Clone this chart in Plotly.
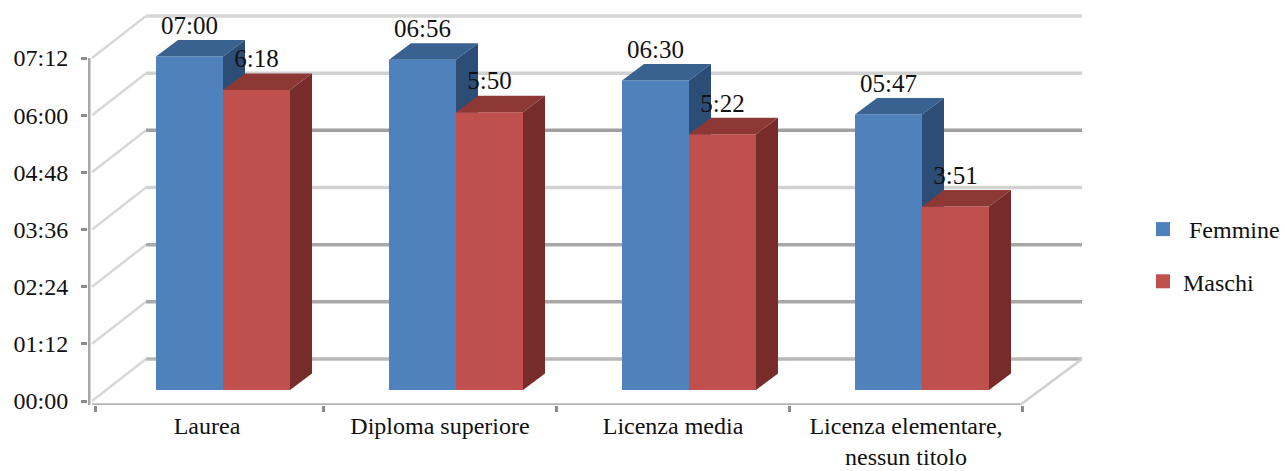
import plotly.graph_objects as go

categories = ["Laurea", "Diploma superiore", "Licenza media", "Licenza elementare,<br>nessun titolo"]
femmine_labels = ["07:00", "06:56", "06:30", "05:47"]
maschi_labels = ["6:18", "5:50", "5:22", "3:51"]
femmine_minutes = [420, 416, 390, 347]
maschi_minutes = [378, 350, 322, 231]
y_tick_minutes = [0, 72, 144, 216, 288, 360, 432]
y_tick_labels = ["00:00", "01:12", "02:24", "03:36", "04:48", "06:00", "07:12"]

W, H = 1284, 471
L, R, T, B = 88, 184, 5, 66          # plot-area margins
UX = 233.0                           # px per category
UY = 343 / 432                       # px per minute
X_MIN = -(207 - L) / UX
X_MAX = X_MIN + (W - L - R) / UX
Y_MIN = -5.0
Y_MAX = Y_MIN + (H - T - B) / UY

BASE = 11 / UY                       # bars stand a little behind the front edge
BAR_SHIFT = 16 / UX
BAR_W = 67 / UX
DEPTH_X, DEPTH_Y = 22 / UX, 16.5 / UY
FLOOR_X, FLOOR_Y = 54 / UX, 42 / UY
LEFT_X = (92 - 207) / UX
RIGHT_X = (1020 - 207) / UX
BACK_RIGHT_X = (1082 - 207) / UX
AXIS_X = (89 - 207) / UX
LABEL_LIFT = 29 / UY
FONT = "Liberation Serif"
FS = 24

GRID_COLORS = ["#b8b8b8", "#a8a8a8", "#a8a8a8", "#d2d2d2", "#a0a0a0", "#d2d2d2", "#d6d6d6"]
BLUE, BLUE_SIDE, BLUE_TOP = "#4F81BD", "#2C4D75", "#3A6291"
RED, RED_SIDE, RED_TOP = "#C0504D", "#772C2A", "#8E3836"

fig = go.Figure()


def line(xs, ys, color, width):
    fig.add_trace(go.Scatter(x=xs, y=ys, mode="lines", line=dict(color=color, width=width),
                             hoverinfo="skip", showlegend=False, xaxis="x", yaxis="y"))


# walls and floor
for v, c in zip(y_tick_minutes, GRID_COLORS):
    line([LEFT_X, LEFT_X + FLOOR_X], [v, v + FLOOR_Y], "#d8d8d8", 2.5)
    line([LEFT_X + FLOOR_X, BACK_RIGHT_X], [v + FLOOR_Y, v + FLOOR_Y], c, 3.5)
line([RIGHT_X, BACK_RIGHT_X], [Y_MIN, FLOOR_Y], "#d0d0d0", 2.5)
line([LEFT_X, RIGHT_X], [Y_MIN, Y_MIN], "#b4b4b4", 3.5)
line([AXIS_X, AXIS_X], [Y_MIN, y_tick_minutes[-1]], "#a8a8a8", 3)


def series(values, labels, name, sign, color, side, top, ax):
    xs = [i + BAR_SHIFT + sign * BAR_W / 2 for i in range(len(values))]
    fig.add_trace(go.Bar(x=xs, y=values, base=[BASE] * len(values), width=BAR_W,
                         marker=dict(color=color, line=dict(width=0)), name=name,
                         showlegend=False, xaxis="x" + ax, yaxis="y" + ax))
    for x, v in zip(xs, values):
        xl, xr, t = x - BAR_W / 2, x + BAR_W / 2, BASE + v
        fig.add_trace(go.Scatter(
            x=[xl, xl + DEPTH_X, xr + DEPTH_X, xr, xl],
            y=[t, t + DEPTH_Y, t + DEPTH_Y, t, t],
            mode="lines", fill="toself", fillcolor=top, line=dict(width=0),
            hoverinfo="skip", showlegend=False, xaxis="x" + ax, yaxis="y" + ax))
        fig.add_trace(go.Scatter(
            x=[xr, xr + DEPTH_X, xr + DEPTH_X, xr, xr],
            y=[BASE, BASE + DEPTH_Y, t + DEPTH_Y, t, BASE],
            mode="lines", fill="toself", fillcolor=side, line=dict(width=0),
            hoverinfo="skip", showlegend=False, xaxis="x" + ax, yaxis="y" + ax))
    return xs


xs_f = series(femmine_minutes, femmine_labels, "Femmine", -1, BLUE, BLUE_SIDE, BLUE_TOP, "2")
xs_m = series(maschi_minutes, maschi_labels, "Maschi", 1, RED, RED_SIDE, RED_TOP, "3")

# data labels, above everything
fig.add_trace(go.Scatter(
    x=xs_f + xs_m,
    y=[BASE + v + LABEL_LIFT for v in femmine_minutes + maschi_minutes],
    text=femmine_labels + maschi_labels, mode="text", textposition="middle center",
    textfont=dict(family=FONT, size=FS + 1, color="#111111"),
    hoverinfo="skip", showlegend=False, xaxis="x3", yaxis="y3"))

# legend entries
for name, color in (("\u00a0Femmine", BLUE), ("Maschi", RED)):
    fig.add_trace(go.Scatter(x=[None], y=[None], mode="markers", name=name, legendgroup=name,
                             marker=dict(symbol="square", size=14, color=color),
                             xaxis="x3", yaxis="y3"))

hidden = dict(visible=False, fixedrange=True)
fig.update_layout(
    width=W, height=H, autosize=False,
    margin=dict(l=L, r=R, t=T, b=B, pad=0, autoexpand=False),
    paper_bgcolor="white", plot_bgcolor="white",
    font=dict(family=FONT, size=FS, color="#111111"),
    barmode="overlay",
    xaxis=dict(range=[X_MIN, X_MAX], tickmode="array", tickvals=list(range(len(categories))),
               ticktext=categories, ticks="", showgrid=False, zeroline=False, showline=False,
               fixedrange=True, tickfont=dict(family=FONT, size=FS, color="#111111"),
               ticklabelstandoff=4,
               minor=dict(tickmode="array", tickvals=[-0.48, 0.5, 1.5, 2.5, 3.5], ticks="outside",
                          ticklen=6, tickwidth=2.5, tickcolor="#8c8c8c", showgrid=False)),
    yaxis=dict(range=[Y_MIN, Y_MAX], tickmode="array", tickvals=y_tick_minutes,
               ticktext=y_tick_labels, ticks="outside", ticklen=6, tickwidth=2.5,
               tickcolor="#8c8c8c", showgrid=False, zeroline=False, showline=False,
               ticklabelstandoff=8,
               fixedrange=True, tickfont=dict(family=FONT, size=FS, color="#111111")),
    xaxis2=dict(range=[X_MIN, X_MAX], overlaying="x", **hidden),
    yaxis2=dict(range=[Y_MIN, Y_MAX], overlaying="y", **hidden),
    xaxis3=dict(range=[X_MIN, X_MAX], overlaying="x", **hidden),
    yaxis3=dict(range=[Y_MIN, Y_MAX], overlaying="y", **hidden),
    showlegend=True,
    legend=dict(x=(1143 - L) / (W - L - R), y=(H - B - 207) / (H - T - B), xanchor="left", yanchor="top",
                font=dict(family=FONT, size=FS, color="#111111"), tracegroupgap=18,
                bgcolor="rgba(0,0,0,0)", borderwidth=0, itemclick=False, itemdoubleclick=False),
)
fig.write_html("out.html", config=dict(displayModeBar=False),
               post_script="document.body.style.margin='0';document.body.style.overflow='hidden';")
